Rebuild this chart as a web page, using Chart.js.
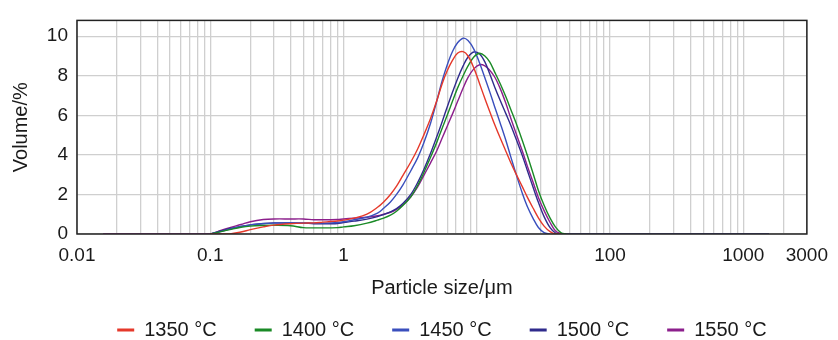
<!DOCTYPE html>
<html>
<head>
<meta charset="utf-8">
<script src="https://cdn.jsdelivr.net/npm/chart.js@4.4.0/dist/chart.umd.min.js"></script>
<style>
  body { margin: 0; background: #fff; }
  #wrap { width: 838px; height: 340px; }
</style>
</head>
<body>
<div id="wrap"><canvas id="psdChart"></canvas></div>
<script>
// particle size bins (um)
const sizes = [0.0157, 0.1, 0.12, 0.14, 0.17, 0.2, 0.25, 0.3, 0.4, 0.5, 0.6, 0.7, 0.8, 0.9, 1.0, 1.2, 1.5, 1.8, 2.0, 2.25,
  2.5, 2.8, 3.2, 3.6, 4.0, 4.5, 5.0, 5.5, 6.0, 6.6, 7.2, 7.9, 8.6, 9.5, 10.5, 11.5, 12.5, 13.6, 15, 16.5,
  18, 20, 22, 24, 26.5, 29, 32, 35.5, 39, 43, 47, 1560];

// volume % per series
const vol1350 = [null, 0, 0, 0, 0.1, 0.22, 0.36, 0.45, 0.52, 0.55, 0.56, 0.6, 0.63, 0.66, 0.7, 0.8, 1.0, 1.35, 1.62, 2.0,
  2.42, 2.98, 3.64, 4.3, 5.0, 5.84, 6.72, 7.6, 8.25, 8.8, 9.15, 9.22, 9.0, 8.4, 7.6, 6.85, 6.2, 5.55, 4.85, 4.2,
  3.6, 2.95, 2.38, 1.85, 1.3, 0.82, 0.4, 0.12, 0, 0, null, null];
const vol1400 = [null, 0, 0.12, 0.22, 0.34, 0.4, 0.43, 0.44, 0.42, 0.32, 0.31, 0.31, 0.31, 0.32, 0.36, 0.42, 0.55, 0.7, 0.8, 0.95,
  1.15, 1.45, 1.88, 2.45, 3.1, 3.88, 4.62, 5.35, 6.0, 6.75, 7.4, 8.0, 8.5, 8.95, 9.14, 9.0, 8.7, 8.2, 7.6, 6.95,
  6.3, 5.5, 4.72, 3.96, 3.05, 2.2, 1.45, 0.8, 0.35, 0.06, 0, null];
const vol1450 = [null, 0, 0.12, 0.25, 0.38, 0.46, 0.52, 0.55, 0.56, 0.56, 0.55, 0.55, 0.56, 0.58, 0.62, 0.72, 0.85, 1.05, 1.3, 1.62,
  2.0, 2.5, 3.2, 3.85, 4.6, 5.6, 6.7, 7.75, 8.55, 9.25, 9.68, 9.9, 9.78, 9.35, 8.65, 7.9, 7.2, 6.45, 5.6, 4.75,
  3.9, 2.9, 2.05, 1.38, 0.78, 0.33, 0.07, 0, null, null, null, null];
const vol1500 = [null, 0, 0.15, 0.28, 0.38, 0.46, 0.53, 0.56, 0.56, 0.55, 0.52, 0.52, 0.52, 0.53, 0.58, 0.65, 0.75, 0.88, 0.98, 1.12,
  1.28, 1.55, 2.0, 2.6, 3.25, 4.08, 4.9, 5.68, 6.42, 7.2, 7.88, 8.5, 8.95, 9.2, 9.1, 8.7, 8.1, 7.45, 6.75, 6.1,
  5.5, 4.7, 3.95, 3.2, 2.35, 1.6, 0.88, 0.32, 0.05, 0, 0, 0];
const vol1550 = [0, 0, 0.18, 0.32, 0.48, 0.62, 0.73, 0.76, 0.76, 0.76, 0.72, 0.72, 0.72, 0.73, 0.76, 0.8, 0.85, 0.92, 1.0, 1.1,
  1.25, 1.48, 1.88, 2.38, 2.95, 3.6, 4.2, 4.85, 5.45, 6.1, 6.72, 7.38, 7.92, 8.35, 8.56, 8.5, 8.28, 7.95, 7.35, 6.62,
  5.85, 4.97, 4.18, 3.42, 2.6, 1.85, 1.18, 0.58, 0.15, 0.01, null, null];

const seriesNames = ["1350 °C", "1400 °C", "1450 °C", "1500 °C", "1550 °C"];
const seriesColors = ["#e5392b", "#1a8a26", "#3a4fbd", "#2f2b8c", "#8c1f8c"];
const seriesValues = [vol1350, vol1400, vol1450, vol1500, vol1550];

const xTickLabels = [0.01, 0.1, 1, 100, 1000, 3000];
const yTicks = [0, 2, 4, 6, 8, 10];

const FONT = "'Liberation Sans', Arial, Helvetica, sans-serif";
Chart.defaults.font.family = FONT;
Chart.defaults.color = "#1a1a1a";

// grid at every 1..9 x 10^n between 0.01 and 3000
const gridTicks = [];
for (let e = -2; e <= 3; e++) {
  for (let m = 1; m <= 9; m++) {
    const v = +(m * Math.pow(10, e)).toPrecision(3);
    if (v <= 3000) gridTicks.push(v);
  }
}

const datasets = seriesNames.map(function (name, i) {
  return {
    label: name,
    data: sizes.map(function (s, j) { return { x: s, y: seriesValues[i][j] }; }),
    borderColor: seriesColors[i],
    backgroundColor: seriesColors[i],
    borderWidth: 1.4,
    pointRadius: 0,
    tension: 0.35,
    spanGaps: false
  };
});

// frame around plot + legend under it
const framePlugin = {
  id: "frame",
  afterDraw: function (chart) {
    const ctx = chart.ctx;
    const a = chart.chartArea;
    ctx.save();
    ctx.strokeStyle = "#222";
    ctx.lineWidth = 1.5;
    ctx.strokeRect(a.left, a.top, a.right - a.left, a.bottom - a.top);

    ctx.font = "20px " + FONT;
    ctx.textBaseline = "middle";
    const lineW = 17, gap = 10, spacing = 38, y = 330;
    const widths = chart.data.datasets.map(function (d) { return lineW + gap + ctx.measureText(d.label).width; });
    const total = widths.reduce(function (s, w) { return s + w; }, 0) + spacing * (widths.length - 1);
    let x = (a.left + a.right) / 2 - total / 2;
    chart.data.datasets.forEach(function (d, i) {
      ctx.fillStyle = d.borderColor;
      ctx.fillRect(x, y - 1.5, lineW, 3);
      ctx.fillStyle = "#1a1a1a";
      ctx.fillText(d.label, x + lineW + gap, y);
      x += widths[i] + spacing;
    });
    ctx.restore();
  }
};

new Chart(document.getElementById("psdChart"), {
  type: "line",
  data: { datasets: datasets },
  plugins: [framePlugin],
  options: {
    responsive: true,
    maintainAspectRatio: false,
    animation: false,
    devicePixelRatio: 1,
    layout: { padding: { left: 0, right: 28, top: 12, bottom: 40 } },
    plugins: {
      legend: { display: false },
      tooltip: { enabled: false }
    },
    scales: {
      x: {
        type: "logarithmic",
        min: 0.01,
        max: 3000,
        afterBuildTicks: function (scale) {
          scale.ticks = gridTicks.map(function (v) { return { value: v }; });
        },
        afterFit: function (scale) { scale.height = 66; },
        grid: { color: "#cfcfcf", lineWidth: 1.3, drawTicks: false },
        border: { display: false },
        ticks: {
          autoSkip: false,
          maxRotation: 0,
          padding: 10,
          font: { size: 19 },
          callback: function (v) {
            return xTickLabels.indexOf(+(+v).toPrecision(3)) >= 0 ? String(+(+v).toPrecision(3)) : "";
          }
        },
        title: {
          display: true,
          text: "Particle size/\u03bcm",
          font: { size: 20 },
          padding: { top: 0, bottom: 0 }
        }
      },
      y: {
        min: 0,
        max: 10.8,
        afterBuildTicks: function (scale) {
          scale.ticks = yTicks.map(function (v) { return { value: v }; });
        },
        afterFit: function (scale) { scale.width = 77; },
        grid: { color: "#cfcfcf", lineWidth: 1.3, drawTicks: false },
        border: { display: false },
        ticks: { padding: 9, font: { size: 19 } },
        title: {
          display: true,
          text: "Volume/%",
          font: { size: 20 },
          padding: { top: 9, bottom: 0 }
        }
      }
    }
  }
});
</script>
</body>
</html>
